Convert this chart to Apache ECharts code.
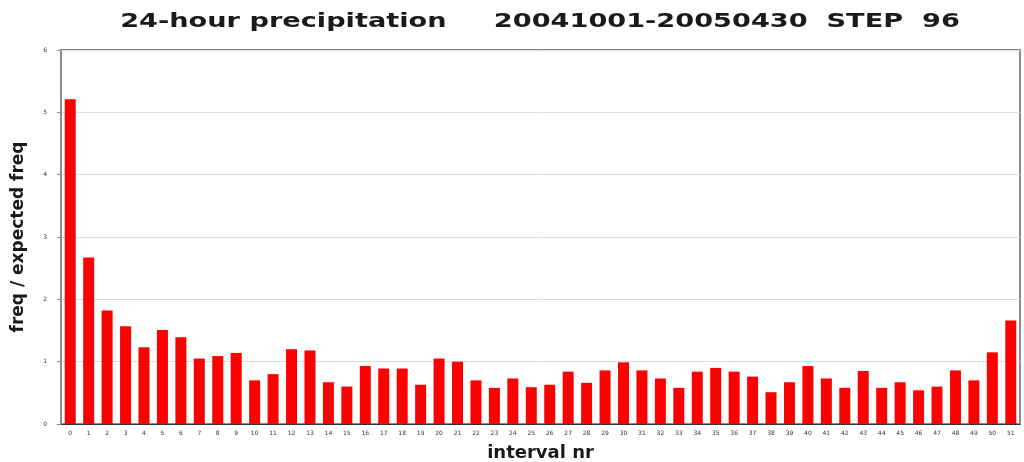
<!DOCTYPE html>
<html>
<head>
<meta charset="utf-8">
<script src="https://cdn.jsdelivr.net/npm/echarts@6/dist/echarts.min.js"></script>
<style>
html,body{margin:0;padding:0;background:#fff;}
#chart{width:1024px;height:462px;}
</style>
</head>
<body>
<div id="chart"></div>
<script>
const categories = [];
for (let i = 0; i < 52; i++) categories.push(String(i));
const ratioValues = [
  5.21, 2.67, 1.82, 1.57, 1.23, 1.51, 1.39, 1.05, 1.09, 1.14,
  0.70, 0.80, 1.20, 1.18, 0.67, 0.60, 0.93, 0.89, 0.89, 0.63,
  1.05, 1.00, 0.70, 0.58, 0.73, 0.59, 0.63, 0.84, 0.66, 0.86,
  0.99, 0.86, 0.73, 0.58, 0.84, 0.90, 0.84, 0.76, 0.51, 0.67,
  0.93, 0.73, 0.58, 0.85, 0.58, 0.67, 0.54, 0.60, 0.86, 0.70,
  1.15, 1.66
];
const yTicks = [0, 1, 2, 3, 4, 5, 6];
const titleText = '24-hour precipitation     20041001-20050430  STEP  96';

const chart = echarts.init(document.getElementById('chart'));
chart.setOption({
  backgroundColor: '#ffffff',
  animation: false,
  graphic: [{
    type: 'text',
    x: 540,
    y: 22,
    scaleX: 1.43,
    style: {
      text: titleText,
      font: 'bold 19px "DejaVu Sans"',
      fill: '#1a1a1a',
      textAlign: 'center',
      textVerticalAlign: 'middle'
    }
  }],
  grid: {
    left: 61,
    right: 4,
    top: 50,
    bottom: 38,
    outerBoundsMode: 'none',
    containLabel: false,
    show: true,
    borderColor: '#8c8c8c',
    borderWidth: 2,
    backgroundColor: '#ffffff'
  },
  xAxis: {
    type: 'category',
    data: categories,
    name: 'interval nr',
    nameLocation: 'middle',
    nameGap: 20,
    nameTextStyle: {
      fontFamily: 'DejaVu Sans',
      fontWeight: 'bold',
      fontSize: 18,
      color: '#1a1a1a'
    },
    axisLine: { lineStyle: { color: '#333', width: 1 } },
    axisTick: { show: false },
    axisLabel: {
      interval: 0,
      fontSize: 6,
      color: '#333',
      margin: 6,
      fontFamily: 'DejaVu Sans'
    }
  },
  yAxis: {
    type: 'value',
    min: 0,
    max: 6,
    interval: 1,
    name: 'freq / expected freq',
    nameLocation: 'middle',
    nameGap: 34,
    nameTextStyle: {
      fontFamily: 'DejaVu Sans',
      fontWeight: 'bold',
      fontSize: 17,
      color: '#1a1a1a'
    },
    axisLine: { show: true, lineStyle: { color: '#8c8c8c', width: 2 } },
    axisTick: { show: true, length: 4, lineStyle: { color: '#8c8c8c' } },
    axisLabel: {
      fontSize: 6,
      color: '#333',
      margin: 14,
      fontFamily: 'DejaVu Sans',
      formatter: function (v) { return yTicks.indexOf(v) >= 0 ? String(v) : ''; }
    },
    splitLine: { show: true, lineStyle: { color: '#dcdcdc', width: 1 } }
  },
  series: [{
    type: 'bar',
    data: ratioValues,
    barWidth: 11,
    itemStyle: { color: '#ff0000' }
  }]
});
</script>
</body>
</html>
